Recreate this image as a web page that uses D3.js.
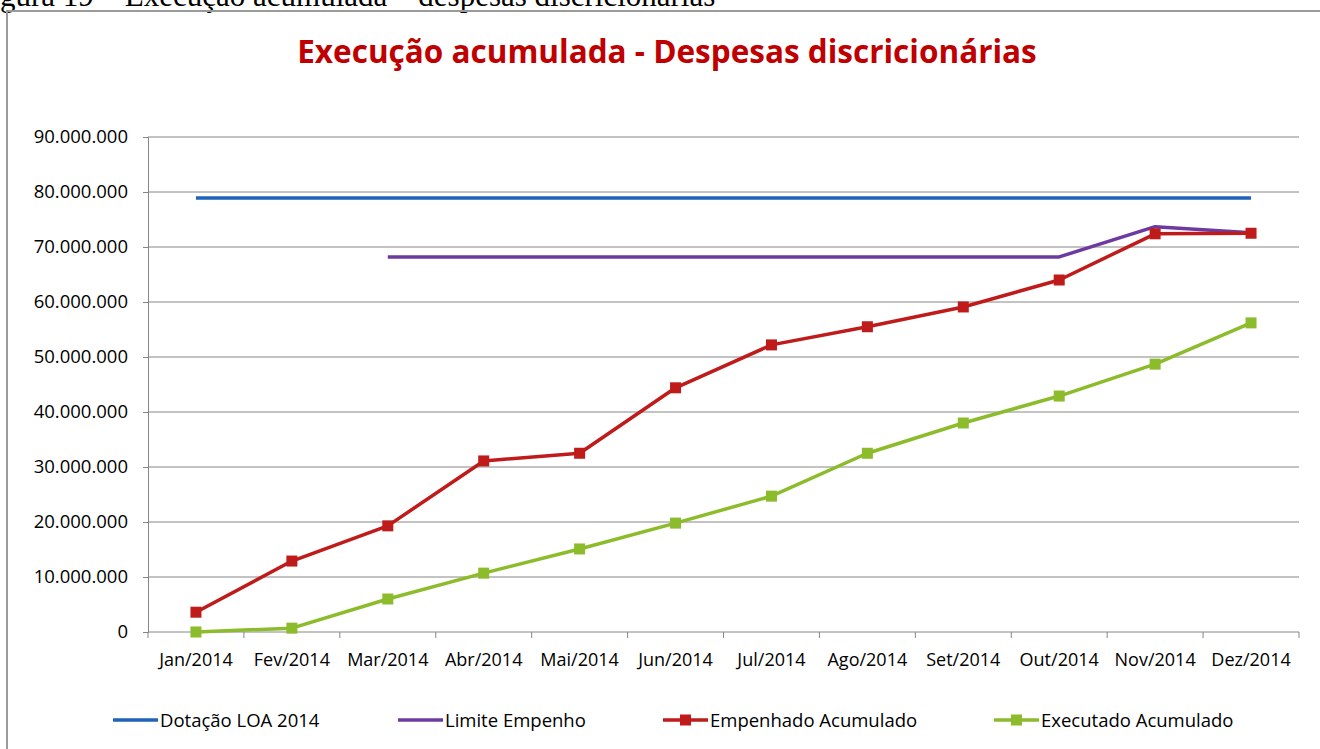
<!DOCTYPE html>
<html>
<head>
<meta charset="utf-8">
<script src="https://cdn.jsdelivr.net/npm/d3@7"></script>
<style>
  body { margin: 0; background: #fff; }
  svg { display: block; }
</style>
</head>
<body>
<div id="chart"></div>
<script>
// data
var months = ["Jan/2014","Fev/2014","Mar/2014","Abr/2014","Mai/2014","Jun/2014",
              "Jul/2014","Ago/2014","Set/2014","Out/2014","Nov/2014","Dez/2014"];
var dotacao = [78900000,78900000,78900000,78900000,78900000,78900000,
               78900000,78900000,78900000,78900000,78900000,78900000];
var limite = [null,null,68200000,68200000,68200000,68200000,
              68200000,68200000,68200000,68200000,73700000,72600000];
var empenhado = [3600000,12900000,19300000,31100000,32500000,44400000,
                 52200000,55500000,59100000,64000000,72400000,72500000];
var executado = [0,700000,6000000,10700000,15100000,19800000,
                 24700000,32500000,38000000,42900000,48700000,56200000];
var yTicks = [0,10000000,20000000,30000000,40000000,50000000,60000000,70000000,80000000,90000000];

var series = [
  {name: "Dotação LOA 2014", values: dotacao, color: "#1f63ba", marker: false},
  {name: "Limite Empenho", values: limite, color: "#6d3b9f", marker: false},
  {name: "Empenhado Acumulado", values: empenhado, color: "#bf1b1b", marker: true},
  {name: "Executado Acumulado", values: executado, color: "#8cbb2b", marker: true}
];

var W = 1320, H = 749;
var margin = {top: 137, right: 21, bottom: 117, left: 148};
var font = "'Open Sans', sans-serif";

var svg = d3.select("#chart").append("svg")
  .attr("width", W)
  .attr("height", H);

// caption cut at the top of the page
svg.append("text")
  .attr("x", 0)
  .attr("y", 6)
  .attr("font-family", "'Liberation Serif', serif")
  .attr("font-size", 31)
  .attr("fill", "#000")
  .text("gura 19 – Execução acumulada – despesas discricionárias");

// chart frame
svg.append("rect")
  .attr("x", 7).attr("y", 11)
  .attr("width", 1330).attr("height", 760)
  .attr("fill", "none")
  .attr("stroke", "#9a9a9a")
  .attr("stroke-width", 2);

svg.append("text")
  .attr("x", 667)
  .attr("y", 63)
  .attr("text-anchor", "middle")
  .attr("font-family", font)
  .attr("font-weight", "bold")
  .attr("font-size", 31.5)
  .attr("fill", "#c00000")
  .text("Execução acumulada - Despesas discricionárias");

var x = d3.scaleBand()
  .domain(months)
  .range([margin.left, W - margin.right]);
var cx = function(m) { return x(m) + x.bandwidth() / 2; };

var y = d3.scaleLinear()
  .domain([0, 90000000])
  .range([H - margin.bottom, margin.top]);

var fmt = function(v) { return d3.format(",")(v).replace(/,/g, "."); };

// gridlines + y axis
var yAxis = svg.append("g")
  .attr("transform", "translate(" + margin.left + ",0)")
  .call(d3.axisLeft(y).tickValues(yTicks).tickFormat(fmt).tickSize(5).tickPadding(15));
yAxis.select(".domain").attr("stroke", "#868686");
yAxis.selectAll(".tick line").attr("stroke", "#868686");
yAxis.selectAll(".tick text")
  .attr("font-family", font)
  .attr("font-size", 18.5)
  .attr("font-weight", 500)
  .attr("fill", "#000");

svg.append("g").selectAll("line")
  .data(yTicks.slice(1))
  .join("line")
  .attr("x1", margin.left).attr("x2", W - margin.right)
  .attr("y1", function(d) { return y(d); })
  .attr("y2", function(d) { return y(d); })
  .attr("stroke", "#868686")
  .attr("stroke-width", 1);

// x axis, ticks on category boundaries
var xg = svg.append("g")
  .attr("transform", "translate(0," + y(0) + ")");
xg.append("line")
  .attr("x1", margin.left).attr("x2", W - margin.right)
  .attr("stroke", "#868686");
xg.selectAll("line.tk")
  .data(months.concat(["end"]))
  .join("line")
  .attr("class", "tk")
  .attr("x1", function(d, i) { return margin.left + i * x.bandwidth(); })
  .attr("x2", function(d, i) { return margin.left + i * x.bandwidth(); })
  .attr("y1", 0).attr("y2", 6)
  .attr("stroke", "#868686");
xg.selectAll("text")
  .data(months)
  .join("text")
  .attr("x", function(d) { return cx(d); })
  .attr("y", 34)
  .attr("text-anchor", "middle")
  .attr("font-family", font)
  .attr("font-size", 18)
  .attr("font-weight", 500)
  .attr("fill", "#000")
  .text(function(d) { return d; });

// lines
var line = d3.line()
  .defined(function(d) { return d.v != null; })
  .x(function(d) { return cx(d.m); })
  .y(function(d) { return y(d.v); });

series.forEach(function(s) {
  var pts = months.map(function(m, i) { return {m: m, v: s.values[i]}; });
  svg.append("path")
    .datum(pts)
    .attr("fill", "none")
    .attr("stroke", s.color)
    .attr("stroke-width", 3.5)
    .attr("stroke-linejoin", "round")
    .attr("d", line);
  if (s.marker) {
    svg.append("g").selectAll("rect")
      .data(pts.filter(function(d) { return d.v != null; }))
      .join("rect")
      .attr("x", function(d) { return cx(d.m) - 5.5; })
      .attr("y", function(d) { return y(d.v) - 5.5; })
      .attr("width", 11).attr("height", 11)
      .attr("fill", s.color);
  }
});

// legend
var legendX = [113, 398, 663, 994];
var lg = svg.append("g").attr("transform", "translate(0,720)");
series.forEach(function(s, i) {
  var g = lg.append("g").attr("transform", "translate(" + legendX[i] + ",0)");
  g.append("line")
    .attr("x1", 0).attr("x2", 45)
    .attr("stroke", s.color).attr("stroke-width", 3.5);
  if (s.marker) {
    g.append("rect")
      .attr("x", 17).attr("y", -5.5)
      .attr("width", 11).attr("height", 11)
      .attr("fill", s.color);
  }
  g.append("text")
    .attr("x", 47)
    .attr("y", 6.5)
    .attr("font-family", font)
    .attr("font-size", 18.5)
    .attr("font-weight", 500)
    .attr("fill", "#000")
    .text(s.name);
});
</script>
</body>
</html>
